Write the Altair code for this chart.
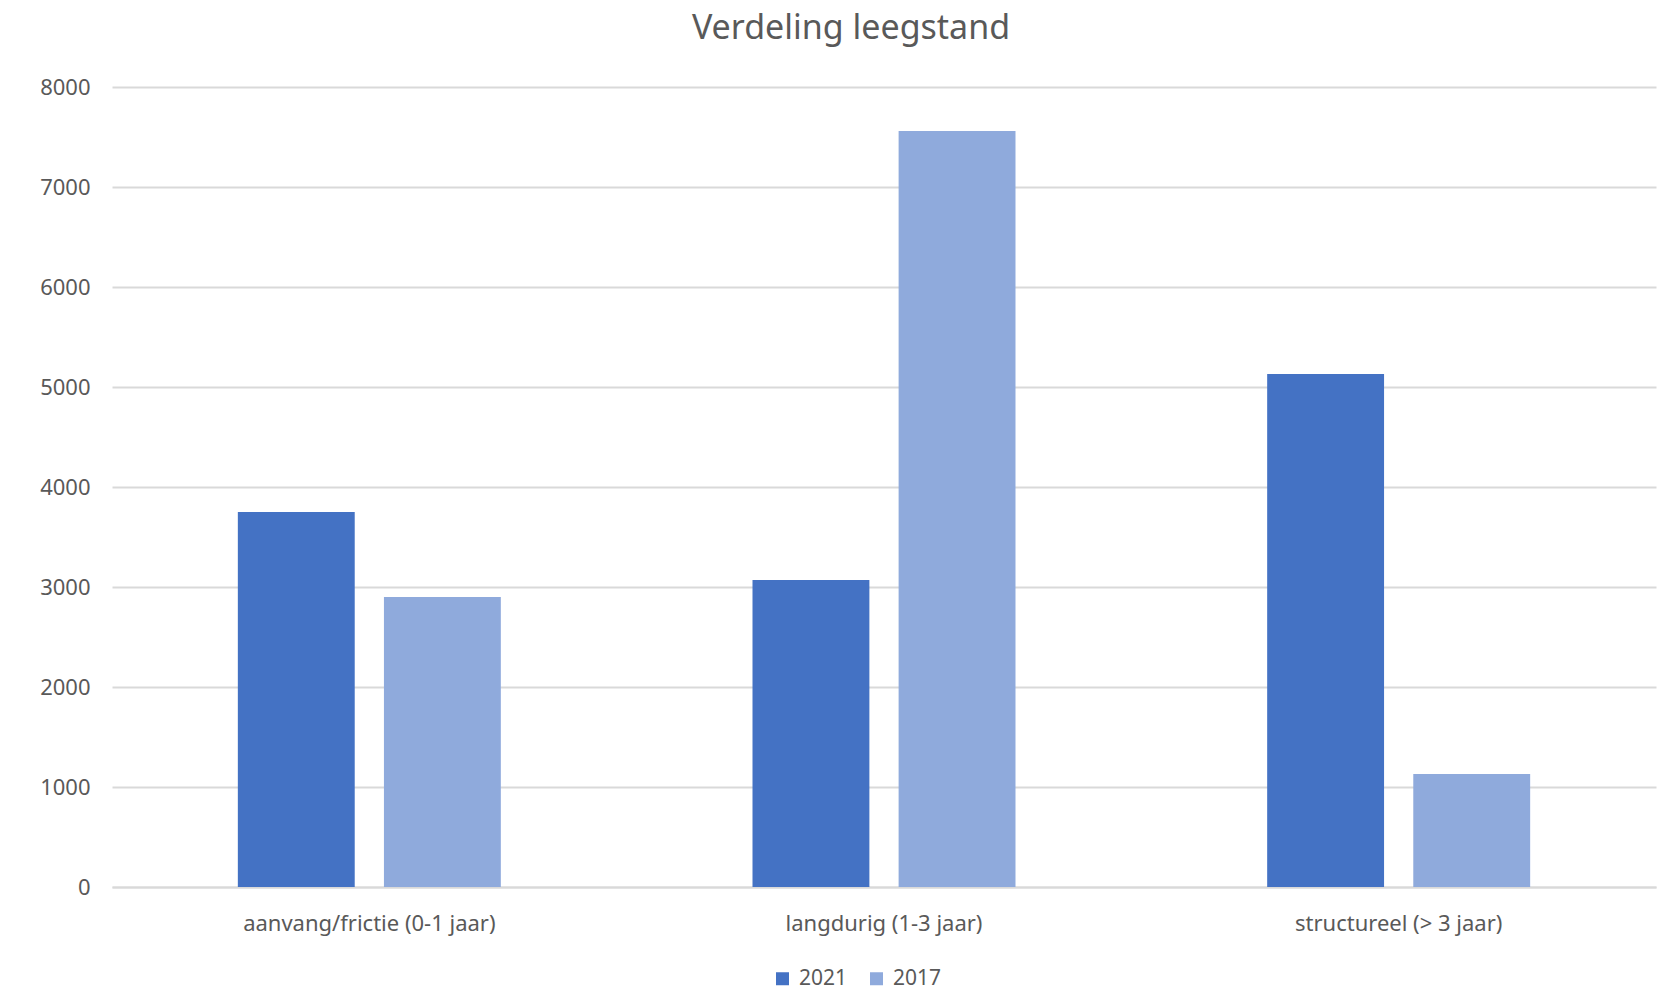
import altair as alt
import pandas as pd

categories = ["aanvang/frictie (0-1 jaar)", "langdurig (1-3 jaar)", "structureel (> 3 jaar)"]
years = ["2021", "2017"]
values_2021 = [3750, 3070, 5130]
values_2017 = [2900, 7560, 1130]
colors = ["#4472C4", "#8FAADC"]

rows = []
for c, v21, v17 in zip(categories, values_2021, values_2017):
    rows.append({"categorie": c, "jaar": "2021", "waarde": v21})
    rows.append({"categorie": c, "jaar": "2017", "waarde": v17})
df = pd.DataFrame(rows)

FONT = "Noto Sans"
GREY = "#595959"

chart = alt.Chart(df).mark_bar().encode(
    x=alt.X("categorie:N", sort=categories, title=None,
            scale=alt.Scale(paddingInner=0.489, paddingOuter=0.2445),
            axis=alt.Axis(labelAngle=0, labelFontSize=22, labelColor=GREY, labelFont=FONT,
                          labelPadding=26, labelLimit=500, ticks=False, domain=True,
                          domainColor="#D9D9D9", domainWidth=2, grid=False)),
    xOffset=alt.XOffset("jaar:N", sort=years, scale=alt.Scale(paddingInner=0.2, paddingOuter=0)),
    y=alt.Y("waarde:Q", title=None,
            scale=alt.Scale(domain=[0, 8000], nice=False),
            axis=alt.Axis(values=[0, 1000, 2000, 3000, 4000, 5000, 6000, 7000, 8000],
                          format="d", labelFontSize=22, labelColor=GREY, labelFont=FONT,
                          labelPadding=22, ticks=False, domain=False, grid=True,
                          gridColor="#D9D9D9", gridWidth=2)),
    color=alt.Color("jaar:N", sort=years, scale=alt.Scale(domain=years, range=colors),
                    legend=alt.Legend(title=None, orient="none", direction="horizontal",
                                      legendX=660, legendY=881, symbolType="square",
                                      symbolSize=169, symbolStrokeWidth=0, labelFontSize=21,
                                      labelColor=GREY, labelFont=FONT, labelOffset=6,
                                      columnPadding=18)),
).properties(
    width=1544,
    height=800,
    title=alt.TitleParams("Verdeling leegstand", fontSize=34, font=FONT, color=GREY,
                          fontWeight="normal", anchor="middle", dx=-33, offset=30),
    autosize=alt.AutoSizeParams(type="none"),
    padding={"left": 112, "top": 87, "right": 11, "bottom": 105},
).configure(background="white").configure_view(stroke=None, strokeWidth=0)

chart.save("out.html", embed_options={"renderer": "svg", "actions": False})
